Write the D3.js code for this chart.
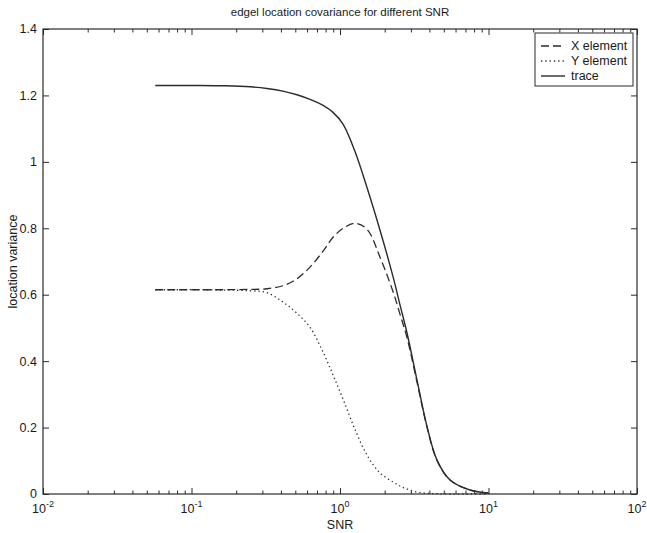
<!DOCTYPE html>
<html>
<head>
<meta charset="utf-8">
<script src="https://cdn.jsdelivr.net/npm/d3@7"></script>
<style>
  html, body { margin: 0; padding: 0; background: #fff; }
  svg { display: block; }
  text { font-family: "Liberation Sans", Arial, Helvetica, sans-serif; fill: #1a1a1a; }
</style>
</head>
<body>
<script>
// ---- data ----
const snr = [0.057, 0.077, 0.114, 0.168, 0.248, 0.322, 0.413, 0.513, 0.628, 0.769, 0.898, 1.05,
             1.26, 1.52, 1.86, 2.28, 2.54, 2.83, 3.30, 3.86, 4.50, 5.51, 7.50, 10.0];
const xElement = [0.615, 0.615, 0.615, 0.615, 0.616, 0.618, 0.627, 0.648, 0.683, 0.731, 0.773, 0.800,
                  0.815, 0.797, 0.713, 0.608, 0.540, 0.470, 0.337, 0.200, 0.101, 0.042, 0.012, 0.003];
const yElement = [0.615, 0.615, 0.615, 0.614, 0.612, 0.606, 0.578, 0.544, 0.502, 0.427, 0.358, 0.285,
                  0.195, 0.117, 0.063, 0.036, 0.024, 0.015, 0.006, 0.002, 0.001, 0.0, 0.0, 0.0];
const trace = [1.230, 1.230, 1.230, 1.229, 1.226, 1.221, 1.213, 1.202, 1.188, 1.170, 1.149, 1.113,
               1.032, 0.923, 0.794, 0.653, 0.568, 0.484, 0.343, 0.202, 0.102, 0.042, 0.012, 0.003];
const xMajorExponents = [-2, -1, 0, 1, 2];
const yTicks = [0, 0.2, 0.4, 0.6, 0.8, 1, 1.2, 1.4];
const legendLabels = ["X element", "Y element", "trace"];
const titleText = "edgel location covariance for different SNR";
const xLabelText = "SNR";
const yLabelText = "location variance";

// ---- layout ----
const W = 647, H = 533;
const m = { left: 43, top: 29, right: 10, bottom: 39 };
const pw = W - m.left - m.right, ph = H - m.top - m.bottom;
const ink = "#2b2b2b";

const svg = d3.select("body").append("svg").attr("width", W).attr("height", H);
const g = svg.append("g").attr("transform", `translate(${m.left},${m.top})`);

const x = d3.scaleLog().domain([1e-2, 1e2]).range([0, pw]);
const y = d3.scaleLinear().domain([0, 1.4]).range([ph, 0]);

const majors = xMajorExponents.map(e => Math.pow(10, e));
const minors = x.ticks().filter(v => !majors.some(mj => Math.abs(mj - v) / mj < 1e-9));

function styleAxis(sel) {
  sel.select(".domain").remove();
  sel.selectAll("line").attr("stroke", ink).attr("stroke-width", 1);
}

// inward ticks on all four sides (MATLAB style)
g.append("g").attr("transform", `translate(0,${ph})`)
  .call(d3.axisBottom(x).tickValues(minors).tickSize(-3.5).tickFormat(""))
  .call(styleAxis);
g.append("g").attr("transform", `translate(0,${ph})`)
  .call(d3.axisBottom(x).tickValues(majors).tickSize(-6).tickFormat(""))
  .call(styleAxis);
g.append("g")
  .call(d3.axisTop(x).tickValues(minors).tickSize(-3.5).tickFormat(""))
  .call(styleAxis);
g.append("g")
  .call(d3.axisTop(x).tickValues(majors).tickSize(-6).tickFormat(""))
  .call(styleAxis);
g.append("g")
  .call(d3.axisLeft(y).tickValues(yTicks).tickSize(-6).tickFormat(""))
  .call(styleAxis);
g.append("g").attr("transform", `translate(${pw},0)`)
  .call(d3.axisRight(y).tickValues(yTicks).tickSize(-6).tickFormat(""))
  .call(styleAxis);

// frame
g.append("rect").attr("x", 0).attr("y", 0).attr("width", pw).attr("height", ph)
  .attr("fill", "none").attr("stroke", ink).attr("stroke-width", 1.2);

// y tick labels
g.selectAll(".ylab").data(yTicks).enter().append("text")
  .attr("x", -6).attr("y", d => y(d)).attr("dy", "0.35em")
  .attr("text-anchor", "end").attr("font-size", 12.5)
  .text(d => d3.format("~g")(d));

// x tick labels with superscript exponent
const xl = g.selectAll(".xlab").data(xMajorExponents).enter().append("text")
  .attr("x", d => x(Math.pow(10, d))).attr("y", ph + 19)
  .attr("text-anchor", "middle").attr("font-size", 12.5);
xl.append("tspan").text("10");
xl.append("tspan").attr("dy", -6).attr("font-size", 9).text(d => d);

// axis labels & title
svg.append("text").attr("x", m.left + pw / 2).attr("y", 529)
  .attr("text-anchor", "middle").attr("font-size", 12.5).text(xLabelText);
svg.append("text").attr("transform", `translate(17,${m.top + ph / 2}) rotate(-90)`)
  .attr("text-anchor", "middle").attr("font-size", 12.5).text(yLabelText);
svg.append("text").attr("x", m.left + pw / 2).attr("y", 16)
  .attr("text-anchor", "middle").attr("font-size", 11.5).text(titleText);

// curves
const series = [
  { name: legendLabels[0], values: xElement, dash: "8,4", width: 1.3 },
  { name: legendLabels[1], values: yElement, dash: "1.3,3", width: 1.3 },
  { name: legendLabels[2], values: trace, dash: null, width: 1.4 }
];
const line = d3.line().curve(d3.curveCatmullRom.alpha(0.5))
  .x(d => x(d[0])).y(d => y(d[1]));
series.forEach(s => {
  g.append("path")
    .datum(snr.map((v, i) => [v, s.values[i]]))
    .attr("d", line)
    .attr("fill", "none").attr("stroke", ink)
    .attr("stroke-width", s.width)
    .attr("stroke-dasharray", s.dash);
});

// legend
const lg = svg.append("g").attr("transform", "translate(535,33)");
lg.append("rect").attr("width", 98).attr("height", 53)
  .attr("fill", "#fff").attr("stroke", ink).attr("stroke-width", 1);
series.forEach((s, i) => {
  const yy = 13 + i * 15;
  lg.append("line").attr("x1", 6).attr("x2", 30).attr("y1", yy).attr("y2", yy)
    .attr("stroke", ink).attr("stroke-width", s.width).attr("stroke-dasharray", s.dash);
  lg.append("text").attr("x", 36).attr("y", yy).attr("dy", "0.35em")
    .attr("font-size", 12.5).text(s.name);
});
</script>
</body>
</html>
